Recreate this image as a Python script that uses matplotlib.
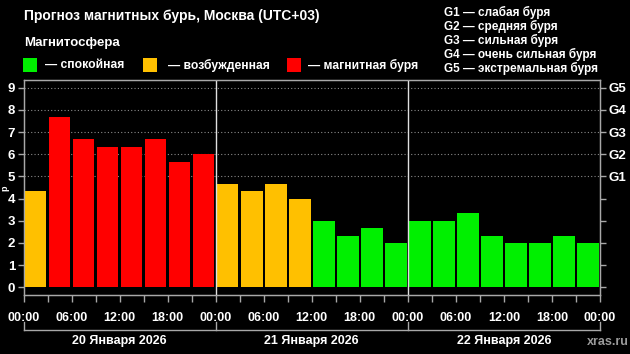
import matplotlib
matplotlib.use("Agg")
import matplotlib.pyplot as plt
from matplotlib import font_manager
from matplotlib.transforms import blended_transform_factory
from matplotlib.lines import Line2D
from matplotlib.patches import Rectangle

names = {f.name for f in font_manager.fontManager.ttflist}
NARROW = 'Liberation Sans Narrow' if 'Liberation Sans Narrow' in names else 'Liberation Sans'
plt.rcParams['font.family'] = ['Liberation Sans', 'DejaVu Sans']
narrow = NARROW != 'Liberation Sans'
TS = 10.5 if narrow else 9.0   # time / date label size

# ---- data ----
kp_values = [4.33, 7.67, 6.67, 6.33, 6.33, 6.67, 5.67, 6.0,
             4.67, 4.33, 4.67, 4.0, 3.0, 2.33, 2.67, 2.0,
             3.0, 3.0, 3.33, 2.33, 2.0, 2.0, 2.33, 2.0]
time_labels = ["00:00", "06:00", "12:00", "18:00"] * 3 + ["00:00"]
day_labels = ["20 Января 2026", "21 Января 2026", "22 Января 2026"]
g_levels = [5, 6, 7, 8, 9]
g_labels = ["G1", "G2", "G3", "G4", "G5"]
g_legend = ["G1 — слабая буря", "G2 — средняя буря", "G3 — сильная буря",
            "G4 — очень сильная буря", "G5 — экстремальная буря"]
state_labels = ["— спокойная", "— возбужденная", "— магнитная буря"]

GREEN, ORANGE, RED = "#00F000", "#FFC000", "#FF0000"
state_colors = [GREEN, ORANGE, RED]
SPINE = "#a8a8a8"

W, H = 630, 354
fig = plt.figure(figsize=(W / 100, H / 100), dpi=100, facecolor="black")

def fx(px):
    return px / W

def fy(py):
    return 1 - py / H

left, right, top, bottom = 23.5, 600, 80, 295
ax = fig.add_axes([fx(left), fy(bottom), fx(right - left), (bottom - top) / H])
ax.set_facecolor("black")

colors = [GREEN if v < 4 else (ORANGE if v < 5 else RED) for v in kp_values]
xs = [i + 0.5 for i in range(len(kp_values))]
ax.bar(xs, kp_values, width=0.9, color=colors, zorder=3)

ax.set_xlim(0, 24)
ax.set_ylim(-0.35, 9.35)

for g in g_levels:
    ax.axhline(g, color="#8a8a8a", lw=0.8, ls=(0, (1, 2)), zorder=1)
for d in (8, 16):
    ax.axvline(d, color="#e0e0e0", lw=1.0, zorder=4)

for s in ax.spines.values():
    s.set_color(SPINE)
    s.set_linewidth(1.0)

ax.set_yticks(range(10))
ax.set_yticklabels([str(i) for i in range(10)], color="white", fontsize=9.5,
                   fontweight="bold", family=[NARROW, 'DejaVu Sans'])
ax.tick_params(axis="y", colors=SPINE, length=4, width=1, labelcolor="white", pad=2)

ax.set_xticks(range(25))
ax.set_xticklabels([time_labels[i // 2] if i % 2 == 0 else "" for i in range(25)],
                   color="white", fontsize=TS, fontweight="bold",
                   family=[NARROW, 'DejaVu Sans'])
ax.tick_params(axis="x", colors=SPINE, length=5, width=1, labelcolor="white", pad=7)

ax2 = ax.twinx()
ax2.set_ylim(ax.get_ylim())
ax2.set_yticks(range(10))
ax2.set_yticklabels(["" if i < 5 else g_labels[i - 5] for i in range(10)],
                    color="white", fontsize=9.5, fontweight="bold",
                    family=[NARROW, 'DejaVu Sans'])
ax2.tick_params(axis="y", colors=SPINE, length=4, width=1, labelcolor="white", pad=2)
for s in ax2.spines.values():
    s.set_color(SPINE)

# date bracket
tr = blended_transform_factory(ax.transData, fig.transFigure)
yb = fy(330)
fig.add_artist(Line2D([0, 24], [yb, yb], transform=tr, color=SPINE, lw=1))
for d in (0, 8, 16, 24):
    fig.add_artist(Line2D([d, d], [fy(322), yb], transform=tr, color=SPINE, lw=1))
for i, lab in enumerate(day_labels):
    fig.text(8 * i + 4, fy(341), lab, transform=tr, ha="center", va="center",
             color="white", fontsize=TS, fontweight="bold",
             family=[NARROW, 'DejaVu Sans'])

fig.text(fx(629), fy(342), "xras.ru", ha="right", va="center", color="#9a9a9a",
         fontsize=9, fontweight="bold", family=[NARROW, 'DejaVu Sans'])

# titles
fig.text(fx(24), fy(16), "Прогноз магнитных бурь, Москва (UTC+03)", ha="left",
         va="center", color="white", fontsize=10, fontweight="bold")
fig.text(fx(24), fy(43), "Магнитосфера", ha="left", va="center", color="white",
         fontsize=9.5, fontweight="bold")

sq_x = [23, 143, 287]
txt_x = [45, 168, 308]
for x0, tx, col, lab in zip(sq_x, txt_x, state_colors, state_labels):
    fig.add_artist(Rectangle((fx(x0), fy(72)), fx(14), 14 / H, transform=fig.transFigure,
                             facecolor=col, edgecolor="none"))
    fig.text(fx(tx), fy(65), lab, ha="left", va="center", color="white",
             fontsize=8.7, fontweight="bold")

for i, lab in enumerate(g_legend):
    fig.text(fx(444), fy(12 + 14 * i), lab, ha="left", va="center", color="white",
             fontsize=8.5, fontweight="bold")

# small fragment of the axis label at the left edge
fig.text(fx(0.5), fy(188), "p", rotation=90, ha="left", va="center",
         color="white", fontsize=6.5, fontweight="bold")

fig.savefig("out.png", dpi=100, facecolor="black")
